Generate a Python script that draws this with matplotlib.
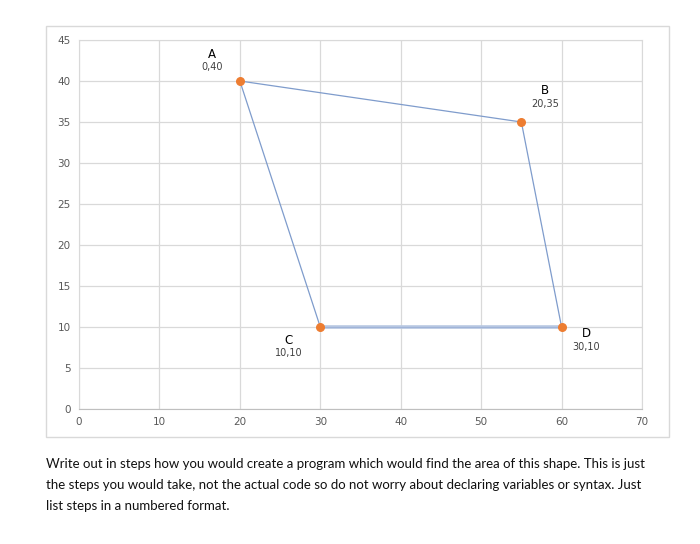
import matplotlib
matplotlib.use("Agg")
import matplotlib.pyplot as plt
from matplotlib.patches import Rectangle

# data
names = ["A", "B", "D", "C"]
xs = [20, 55, 60, 30]
ys = [40, 35, 10, 10]
point_labels = ["0,40", "20,35", "30,10", "10,10"]
xticks = [0, 10, 20, 30, 40, 50, 60, 70]
yticks = [0, 5, 10, 15, 20, 25, 30, 35, 40, 45]
caption = ("Write out in steps how you would create a program which would find the area of this shape. This is just\n"
           "the steps you would take, not the actual code so do not worry about declaring variables or syntax. Just\n"
           "list steps in a numbered format.")

fig = plt.figure(figsize=(7, 5.44), dpi=100)
fig.patches.append(Rectangle((46/700, 1-437/544), (669-46)/700, (437-26)/544,
                             transform=fig.transFigure, fill=False, ec="#d9d9d9", lw=1))

ax = fig.add_axes([79/700, 1-409/544, (642-79)/700, (409-40)/544])
ax.set_xlim(0, 70)
ax.set_ylim(0, 45)
ax.set_xticks(xticks)
ax.set_yticks(yticks)
ax.grid(True, color="#d9d9d9", lw=0.9)
ax.set_axisbelow(True)
for s in ax.spines.values():
    s.set_color("#d9d9d9")
ax.spines["bottom"].set_color("#bfbfbf")
ax.tick_params(length=0, colors="#595959", labelsize=7.5, pad=6)

line_color = "#7f9ccc"
# edges A-B, B-D, C-A
ax.plot([xs[3], xs[0], xs[1], xs[2]], [ys[3], ys[0], ys[1], ys[2]], color=line_color, lw=0.9, zorder=2)
# D-C edge (thicker light)
ax.plot([xs[2], xs[3]], [ys[2], ys[3]], color="#b8c8e2", lw=2.6, zorder=2)
ax.plot([xs[2], xs[3]], [ys[2], ys[3]], color="#a0b4d8", lw=0.8, zorder=2)
ax.scatter(xs, ys, s=30, color="#ed7d31", zorder=3)

# (dx, letter dy, number dy) in points
offsets = {"A": (-20, 19, 10), "B": (17, 22.5, 13), "D": (18, -5, -14.5), "C": (-23, -9.5, -18.5)}
for n, x, y, lab in zip(names, xs, ys, point_labels):
    dx, dyl, dyn = offsets[n]
    ax.annotate(n, (x, y), xytext=(dx, dyl), textcoords="offset points",
                ha="center", va="center", fontsize=8.5, color="#000000")
    ax.annotate(lab, (x, y), xytext=(dx, dyn), textcoords="offset points",
                ha="center", va="center", fontsize=7, color="#404040")

fig.text(46/700, 1-458/544, caption, ha="left", va="top", fontsize=9.5,
         family="Lato", linespacing=1.9, color="#111111")

fig.savefig("out.png", dpi=100)
